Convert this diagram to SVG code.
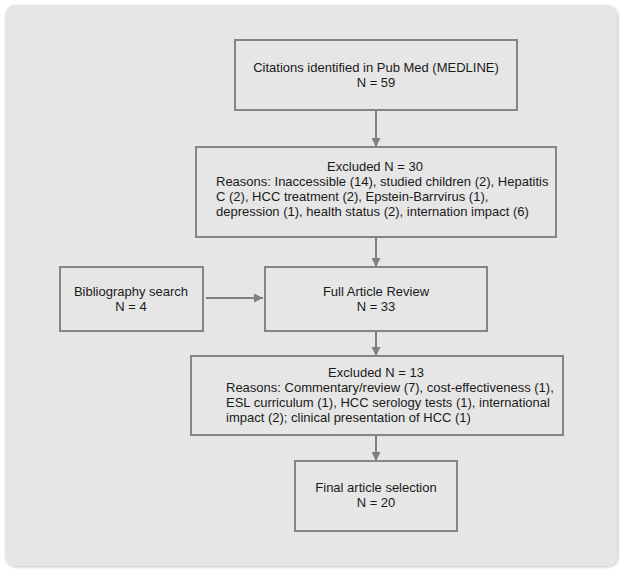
<svg xmlns="http://www.w3.org/2000/svg" width="623" height="572" viewBox="0 0 623 572">
<defs>
<marker id="ah" viewBox="0 0 10 10" refX="10" refY="5" markerWidth="4.5" markerHeight="4.5" orient="auto" markerUnits="strokeWidth">
<path d="M0,0 L10,5 L0,10 Z" fill="#7f7f7f"/>
</marker>
<filter id="sh" x="-5%" y="-5%" width="110%" height="110%">
<feGaussianBlur in="SourceAlpha" stdDeviation="1.5"/>
<feOffset dx="0.5" dy="0.5"/>
<feComponentTransfer><feFuncA type="linear" slope="0.25"/></feComponentTransfer>
<feMerge><feMergeNode/><feMergeNode in="SourceGraphic"/></feMerge>
</filter>
</defs>
<style>
.box{fill:none;stroke:#858585;stroke-width:2}
.t{font-family:"Liberation Sans",Arial,sans-serif;font-size:13px;fill:#1a1a1a}
.c{text-anchor:middle}
.ln{stroke:#7f7f7f;stroke-width:2;fill:none;marker-end:url(#ah)}
</style>
<rect x="0" y="0" width="623" height="572" fill="#ffffff"/>
<rect x="5" y="5" width="612" height="561" rx="10" fill="#e6e6e6" filter="url(#sh)"/>
<g id="connectors">
<line class="ln" x1="376" y1="110" x2="376" y2="147"/>
<line class="ln" x1="376" y1="237" x2="376" y2="267"/>
<line class="ln" x1="206" y1="298" x2="263" y2="298"/>
<line class="ln" x1="376" y1="331" x2="376" y2="356"/>
<line class="ln" x1="376" y1="435" x2="376" y2="461"/>
</g>
<g id="n1">
<rect class="box" x="235" y="40" width="282" height="70"/>
<text class="t c" x="376" y="72">Citations identified in Pub Med (MEDLINE)</text>
<text class="t c" x="376" y="87">N = 59</text>
</g>
<g id="n2">
<rect class="box" x="196" y="147" width="360" height="90"/>
<text class="t c" x="375" y="171">Excluded N = 30</text>
<text class="t" x="216" y="186">Reasons: Inaccessible (14), studied children (2), Hepatitis</text>
<text class="t" x="216" y="201">C (2), HCC treatment (2), Epstein-Barrvirus (1),</text>
<text class="t" x="216" y="216">depression (1), health status (2), internation impact (6)</text>
</g>
<g id="n3">
<rect class="box" x="60" y="267" width="143" height="64"/>
<text class="t c" x="131" y="296">Bibliography search</text>
<text class="t c" x="131" y="311">N = 4</text>
</g>
<g id="n4">
<rect class="box" x="265" y="267" width="222" height="64"/>
<text class="t c" x="376" y="296">Full Article Review</text>
<text class="t c" x="376" y="311">N = 33</text>
</g>
<g id="n5">
<rect class="box" x="191" y="356" width="372" height="79"/>
<text class="t c" x="376" y="377">Excluded N = 13</text>
<text class="t" x="226" y="392">Reasons: Commentary/review (7), cost-effectiveness (1),</text>
<text class="t" x="226" y="407">ESL curriculum (1), HCC serology tests (1), international</text>
<text class="t" x="226" y="422">impact (2); clinical presentation of HCC (1)</text>
</g>
<g id="n6">
<rect class="box" x="295" y="461" width="162" height="70"/>
<text class="t c" x="376" y="492">Final article selection</text>
<text class="t c" x="376" y="507">N = 20</text>
</g>
</svg>
